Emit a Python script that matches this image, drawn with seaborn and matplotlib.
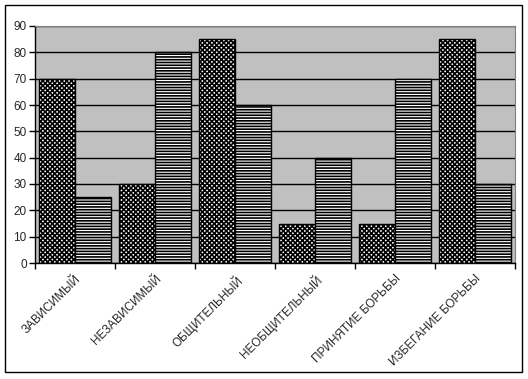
import matplotlib
matplotlib.use("Agg")
import matplotlib.pyplot as plt
import matplotlib.patches as patches
import pandas as pd
import seaborn as sns

categories = ["ЗАВИСИМЫЙ", "НЕЗАВИСИМЫЙ", "ОБЩИТЕЛЬНЫЙ", "НЕОБЩИТЕЛЬНЫЙ",
              "ПРИНЯТИЕ БОРЬБЫ", "ИЗБЕГАНИЕ БОРЬБЫ"]
series1 = [70, 30, 85, 15, 15, 85]
series2 = [25, 80, 60, 40, 70, 30]

df = pd.DataFrame({
    "cat": categories * 2,
    "val": series1 + series2,
    "ser": ["1"] * len(categories) + ["2"] * len(categories),
})

sns.set_style("white")
plt.rcParams["font.family"] = ["Liberation Sans", "DejaVu Sans"]
plt.rcParams["hatch.linewidth"] = 1.2

fig = plt.figure(figsize=(5.28, 3.79), dpi=100)
ax = fig.add_axes([35 / 528, 1 - 263 / 379, 480 / 528, 237 / 379])
ax.set_facecolor("#C0C0C0")

sns.barplot(data=df, x="cat", y="val", hue="ser", order=categories,
            palette=["white", "white"], width=0.9, edgecolor="black",
            linewidth=1, legend=False, ax=ax, zorder=3)

hatches = ["xxxxxxx", "------"]
for container, h in zip(ax.containers, hatches):
    for bar in container:
        bar.set_hatch(h)
        bar.set_edgecolor("black")

ax.set_ylim(0, 90)
ax.set_xlim(-0.5, len(categories) - 0.5)
ax.set_yticks(range(0, 91, 10))
ax.yaxis.grid(True, color="black", linewidth=1, zorder=1)
ax.set_axisbelow(True)

ax.set_xticks(range(len(categories)))
ax.set_xticklabels(categories, rotation=45, ha="right", va="top",
                   rotation_mode="anchor", fontsize=8.5)
ax.set_xticks([i - 0.5 for i in range(len(categories) + 1)], minor=True)
ax.tick_params(axis="x", which="major", length=0, pad=7)
ax.tick_params(axis="x", which="minor", length=4, width=1, color="black",
               direction="out", bottom=True)
ax.tick_params(axis="y", length=4, width=1, color="black", direction="out",
               labelsize=8.5, left=True, pad=2)
ax.set_xlabel("")
ax.set_ylabel("")

for side in ["top", "right"]:
    ax.spines[side].set_color("#808080")
for side in ["left", "bottom"]:
    ax.spines[side].set_color("black")
    ax.spines[side].set_linewidth(1)

fig.patches.append(patches.Rectangle((5 / 528, 1 - 372 / 379), 517 / 528, 367 / 379,
                                     transform=fig.transFigure, fill=False,
                                     edgecolor="black", linewidth=1))

fig.savefig("out.png", dpi=100)
